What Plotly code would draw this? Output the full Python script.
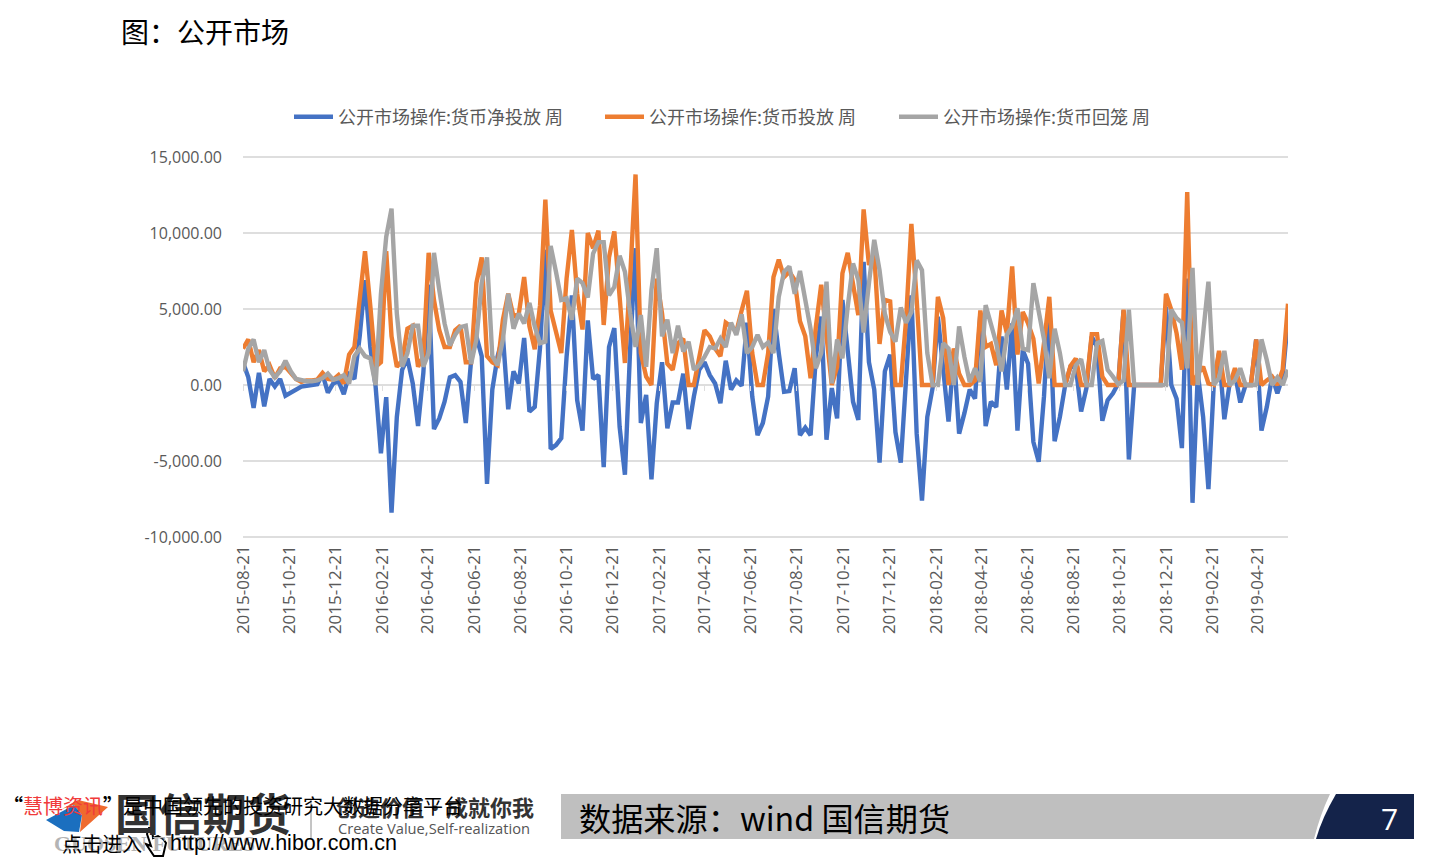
import plotly.graph_objects as go
import pandas as pd

W, H = 1440, 857
dates = pd.date_range("2015-08-21", periods=198, freq="7D").strftime("%Y-%m-%d").tolist()
tick_labels = ["2015-08-21","2015-10-21","2015-12-21","2016-02-21","2016-04-21","2016-06-21","2016-08-21","2016-10-21",
               "2016-12-21","2017-02-21","2017-04-21","2017-06-21","2017-08-21","2017-10-21","2017-12-21","2018-02-21",
               "2018-04-21","2018-06-21","2018-08-21","2018-10-21","2018-12-21","2019-02-21","2019-04-21"]
y_ticks = [15000, 10000, 5000, 0, -5000, -10000]
y_tick_text = ["15,000.00", "10,000.00", "5,000.00", "0.00", "-5,000.00", "-10,000.00"]

# values in thousands
net = [1.5,0.5,-1.5,0.8,-1.4,0.4,-0.1,0.4,-0.7,-0.5,-0.3,-0.1,-0.05,0,0.05,0.7,-0.5,0.1,0.25,-0.6,
       0.7,0.4,3.2,6.9,2.5,-0.1,-4.5,-0.8,-8.4,-2.1,1.0,1.75,0.1,-2.7,0.8,6.6,-2.9,-2.2,-1.1,0.5,
       0.65,0.2,-2.5,1.6,3.2,1.9,-6.5,-0.3,1.9,3.2,-1.6,0.9,0.1,3.1,-1.75,
       -1.45,2.5,8.9,-4.2,-3.95,-3.5,1.85,5.9,-1.0,-3.0,4.25,0.4,0.65,-5.4,2.5,3.75,-2.75,-5.9,2.5,9.0,
       -2.5,-0.65,-6.2,-1.2,1.5,-2.85,-1.15,-1.15,0.75,-2.9,-0.75,1.0,1.5,0.65,0.1,-1.2,1.6,-0.3,0.3,-0.05,
       4.1,-0.75,-3.3,-2.5,-0.75,5.0,2.1,-0.45,-0.4,1.1,-3.3,
       -2.8,-3.3,1.85,4.5,-3.6,-0.2,-2.2,5.6,2.1,-1.1,-2.3,8.1,1.5,-0.3,-5.1,0.9,2.0,-3.1,-5.1,0.75,5.9,
       -3.2,-7.6,-2.1,-0.2,4.5,1.0,-2.4,2.1,-3.2,-1.85,-0.3,-0.9,4.7,-2.7,-1.1,-1.45,3.2,-0.3,4.05,-3.0,
       2.3,1.4,-3.75,-5.05,-0.75,5.35,
       -3.7,-2.1,0,1.2,1.2,-1.75,-0.2,3.2,2.5,-2.35,-1.0,-0.55,0.1,4.9,-4.9,0,0,0,0,0,0,5.15,0,-0.9,-4.15,
       7.0,-7.75,0.75,-2.1,-6.85,0,2.1,-2.25,0.1,0.75,-1.15,0,0,3.0,-3.0,-1.45,0.55,-0.55,0.55,4.4]
invest = [2.4,3.0,1.5,2.3,0.9,1.3,0.45,1.1,1.2,0.75,0.4,0.2,0.3,0.3,0.35,0.8,0.4,0.35,0.65,0.1,
          2.0,2.5,5.6,8.8,5.2,1.2,1.5,8.8,3.2,1.2,1.6,3.7,3.9,1.2,1.9,8.7,5.6,3.6,2.5,2.5,
          3.6,3.9,1.5,1.5,6.7,8.4,1.9,1.5,1.3,4.3,6.0,4.5,4.7,7.1,3.85,
          2.35,5.25,12.2,4.9,3.6,2.1,7.0,10.2,6.0,3.65,10.0,9.0,10.15,3.95,8.4,10.1,5.8,1.45,7.2,13.85,
          2.1,0.55,0,7.0,4.7,1.4,1.0,2.75,3.05,0,0,1.85,3.6,3.2,2.4,1.9,4.1,3.85,3.5,4.9,
          6.2,2.1,0,0,2.1,7.1,8.25,7.1,7.45,6.9,4.2,
          3.2,0.45,3.85,6.6,3.2,0,1.2,7.35,8.7,6.7,4.6,11.55,7.9,8.65,2.7,5.6,5.5,0,0,4.3,10.6,
          5.6,0,0,0,5.8,4.4,0,2.4,0.75,0,0,0.3,4.9,2.5,2.7,1.3,4.9,3.4,7.8,2.0,
          4.8,4.05,3.05,0.1,2.75,5.8,
          0,0,0,1.25,1.75,0,0,3.35,3.35,0.55,0,0,0,4.95,0,0,0,0,0,0,0,6.0,4.95,3.4,1.0,
          12.7,0,0.75,1.2,0.1,0,2.25,0,0,1.1,0,0,0,3.0,0,0.3,0.55,0,1.0,5.35]
withdraw = [0.9,2.4,3.0,1.5,2.3,1.0,0.5,0.9,1.6,0.9,0.4,0.3,0.25,0.25,0.3,0.45,0.75,0.35,0.45,0.65,
            0.1,1.9,2.4,1.9,1.75,0,6.0,9.75,11.6,4.7,1.2,2.1,3.9,3.9,1.2,2.1,8.7,6.25,4.05,2.6,
            3.3,3.8,3.9,1.4,3.0,6.7,8.4,1.9,1.3,3.0,6.0,3.7,4.7,4.05,5.4,
            3.85,2.75,2.85,9.15,7.45,5.6,5.7,4.3,7.0,6.7,5.75,8.65,9.4,9.4,5.9,6.45,8.5,7.45,4.7,2.5,
            4.6,1.2,6.25,9.0,3.2,4.3,2.1,3.9,2.2,2.85,1.0,1.3,1.85,2.5,2.4,3.05,2.5,4.1,3.3,4.65,
            2.1,2.5,3.3,2.5,2.8,2.1,5.8,7.45,7.8,6.0,7.5,
            5.7,3.7,1.1,2.1,6.8,0.1,3.0,1.75,5.15,8.0,6.9,3.45,6.7,9.55,7.55,4.7,3.5,2.85,5.1,4.1,4.8,
            8.2,7.55,2.1,0,0,2.75,2.4,0,3.85,1.85,0.2,1.1,0.2,5.25,4.05,2.75,0.9,3.3,3.85,5.05,
            2.4,2.3,6.7,4.95,3.0,0.45,
            3.7,2.1,0,0,1.3,1.7,0,0,2.75,2.9,1.0,0.55,0.05,0.3,4.95,0,0,0,0,0,0,0,4.95,4.4,4.1,
            1.1,7.7,0,3.4,6.8,0,0.45,2.25,0,0.3,1.1,0,0,0,3.0,1.65,0,0.5,0,1.0]
assert len(net) == len(invest) == len(withdraw) == len(dates), (len(net), len(invest), len(withdraw), len(dates))

series_names = ["公开市场操作:货币净投放 周", "公开市场操作:货币投放 周", "公开市场操作:货币回笼 周"]
colors = ["#4472C4", "#ED7D31", "#A5A5A5"]
TXT = "#595959"
GRID = "#DEDEDE"
CJK = "Noto Sans CJK SC"

def px(x): return x / W
def py(y): return 1 - y / H

fig = go.Figure()
for name, vals, color, xa, lg in zip(series_names, [net, invest, withdraw], colors, ["x", "x", "x2"],
                                     ["legend", "legend2", "legend3"]):
    fig.add_trace(go.Scatter(x=dates, y=[v * 1000 for v in vals], name=name, mode="lines", xaxis=xa, legend=lg,
                             line=dict(color=color, width=4.4)))

x_range = [dates[0], dates[-1]]
dom = [px(243), px(1288)]

def P(x, y): return f"{px(x):.5f},{py(y):.5f}"

shapes = [
    dict(type="path", xref="paper", yref="paper", fillcolor="#BFBFBF", line=dict(width=0),
         path=f"M{P(561,794)} L{P(1330,794)} Q{P(1320,815)} {P(1314,839)} L{P(561,839)} Z"),
    dict(type="path", xref="paper", yref="paper", fillcolor="#14234A", line=dict(width=0),
         path=f"M{P(1336,794)} L{P(1414,794)} L{P(1414,839)} L{P(1316,839)} Q{P(1322,818)} {P(1336,794)} Z"),
    dict(type="path", xref="paper", yref="paper", fillcolor="#EF6A2E", line=dict(width=0),
         path=f"M{P(62,809)} L{P(78,800)} L{P(108,807)} L{P(80,832)} L{P(82,815)} L{P(74,805)} Z"),
    dict(type="path", xref="paper", yref="paper", fillcolor="#1B6FBF", line=dict(width=0),
         path=f"M{P(46,820)} L{P(74,805)} L{P(82,815)} L{P(79,832)} L{P(64,831)} Z"),
    dict(type="line", xref="paper", yref="paper", x0=px(311), x1=px(311), y0=py(800), y1=py(838),
         line=dict(color="#8a8a8a", width=1)),
    dict(type="path", xref="paper", yref="paper", fillcolor="white", line=dict(color="black", width=2),
         path=(f"M{P(147,834)} L{P(149,828)} L{P(152,828)} L{P(153,838)} L{P(158,836)} L{P(163,839)} L{P(166,843)}"
               f" L{P(163,856)} L{P(154,856)} L{P(146,844)} L{P(151,846)} Z")),
]

def note(x, y, text, size, color="#000000", family=CJK, anchor="left"):
    return dict(xref="paper", yref="paper", x=px(x), y=py(y), text=text, showarrow=False, xanchor=anchor,
                yanchor="middle", font=dict(size=size, color=color, family=family))

annotations = [
    note(119, 31, "图：公开市场", 28),
    note(577, 817, "数据来源：wind 国信期货", 32.2),
    note(1389, 818, "7", 30, "#FFFFFF", "Open Sans", "center"),
    note(52, 843, "<b>GUOSEN FUTURES</b>", 22, "#B4B4B4", "Liberation Serif"),
    note(113, 812, "<b>国信期货</b>", 44, "#333333"),
    note(334, 806, "<b>创造价值·成就你我</b>", 22, "#333333"),
    note(336, 828, "Create Value,Self-realization", 14.7, "#555555", "Open Sans"),
    note(1, 805, "<b>“</b><span style='color:#F03A3A'>慧博资讯</span><b>”</b>是中国领先的投资研究大数据分享平台", 20),
    note(60, 843, "点击进入", 20),
    note(168, 843, "http://www.hibor.com.cn", 21.5, "#000000", "Liberation Sans"),
]

def legend_at(x):
    return dict(orientation="h", x=px(x), y=py(117), xanchor="left", yanchor="middle", itemwidth=39,
                font=dict(family=CJK, size=18, color=TXT), bgcolor="rgba(0,0,0,0)")

fig.update_layout(
    width=W, height=H, margin=dict(l=0, r=0, t=0, b=0, autoexpand=False), paper_bgcolor="white", plot_bgcolor="white",
    showlegend=True,
    font=dict(family="Open Sans", color=TXT),
    legend=legend_at(289), legend2=legend_at(600), legend3=legend_at(894),
    xaxis=dict(domain=dom, type="date", range=x_range, anchor="y", tickvals=tick_labels, ticktext=tick_labels,
               tickangle=-90, showgrid=False, ticks="", showline=False, zeroline=False, ticklabelstandoff=2,
               tickfont=dict(size=17, color=TXT, family="Open Sans")),
    xaxis2=dict(domain=dom, type="date", range=x_range, overlaying="x", anchor="free", position=py(385),
                side="bottom", tickvals=tick_labels, ticks="outside", ticklen=5, tickcolor=GRID, tickwidth=1,
                showticklabels=False, showgrid=False, showline=False, zeroline=False),
    yaxis=dict(domain=[py(539), py(155)], range=[-10132, 15132], tickvals=y_ticks, ticktext=y_tick_text,
               gridcolor=GRID, gridwidth=2, zeroline=True, zerolinecolor=GRID, zerolinewidth=2,
               showline=False, ticks="", ticklabelstandoff=20,
               tickfont=dict(size=16, color=TXT, family="Open Sans")),
    shapes=shapes, annotations=annotations,
)

fig.write_html("out.html", config=dict(displayModeBar=False),
               post_script="document.body.style.margin='0';document.body.style.overflow='hidden';")
